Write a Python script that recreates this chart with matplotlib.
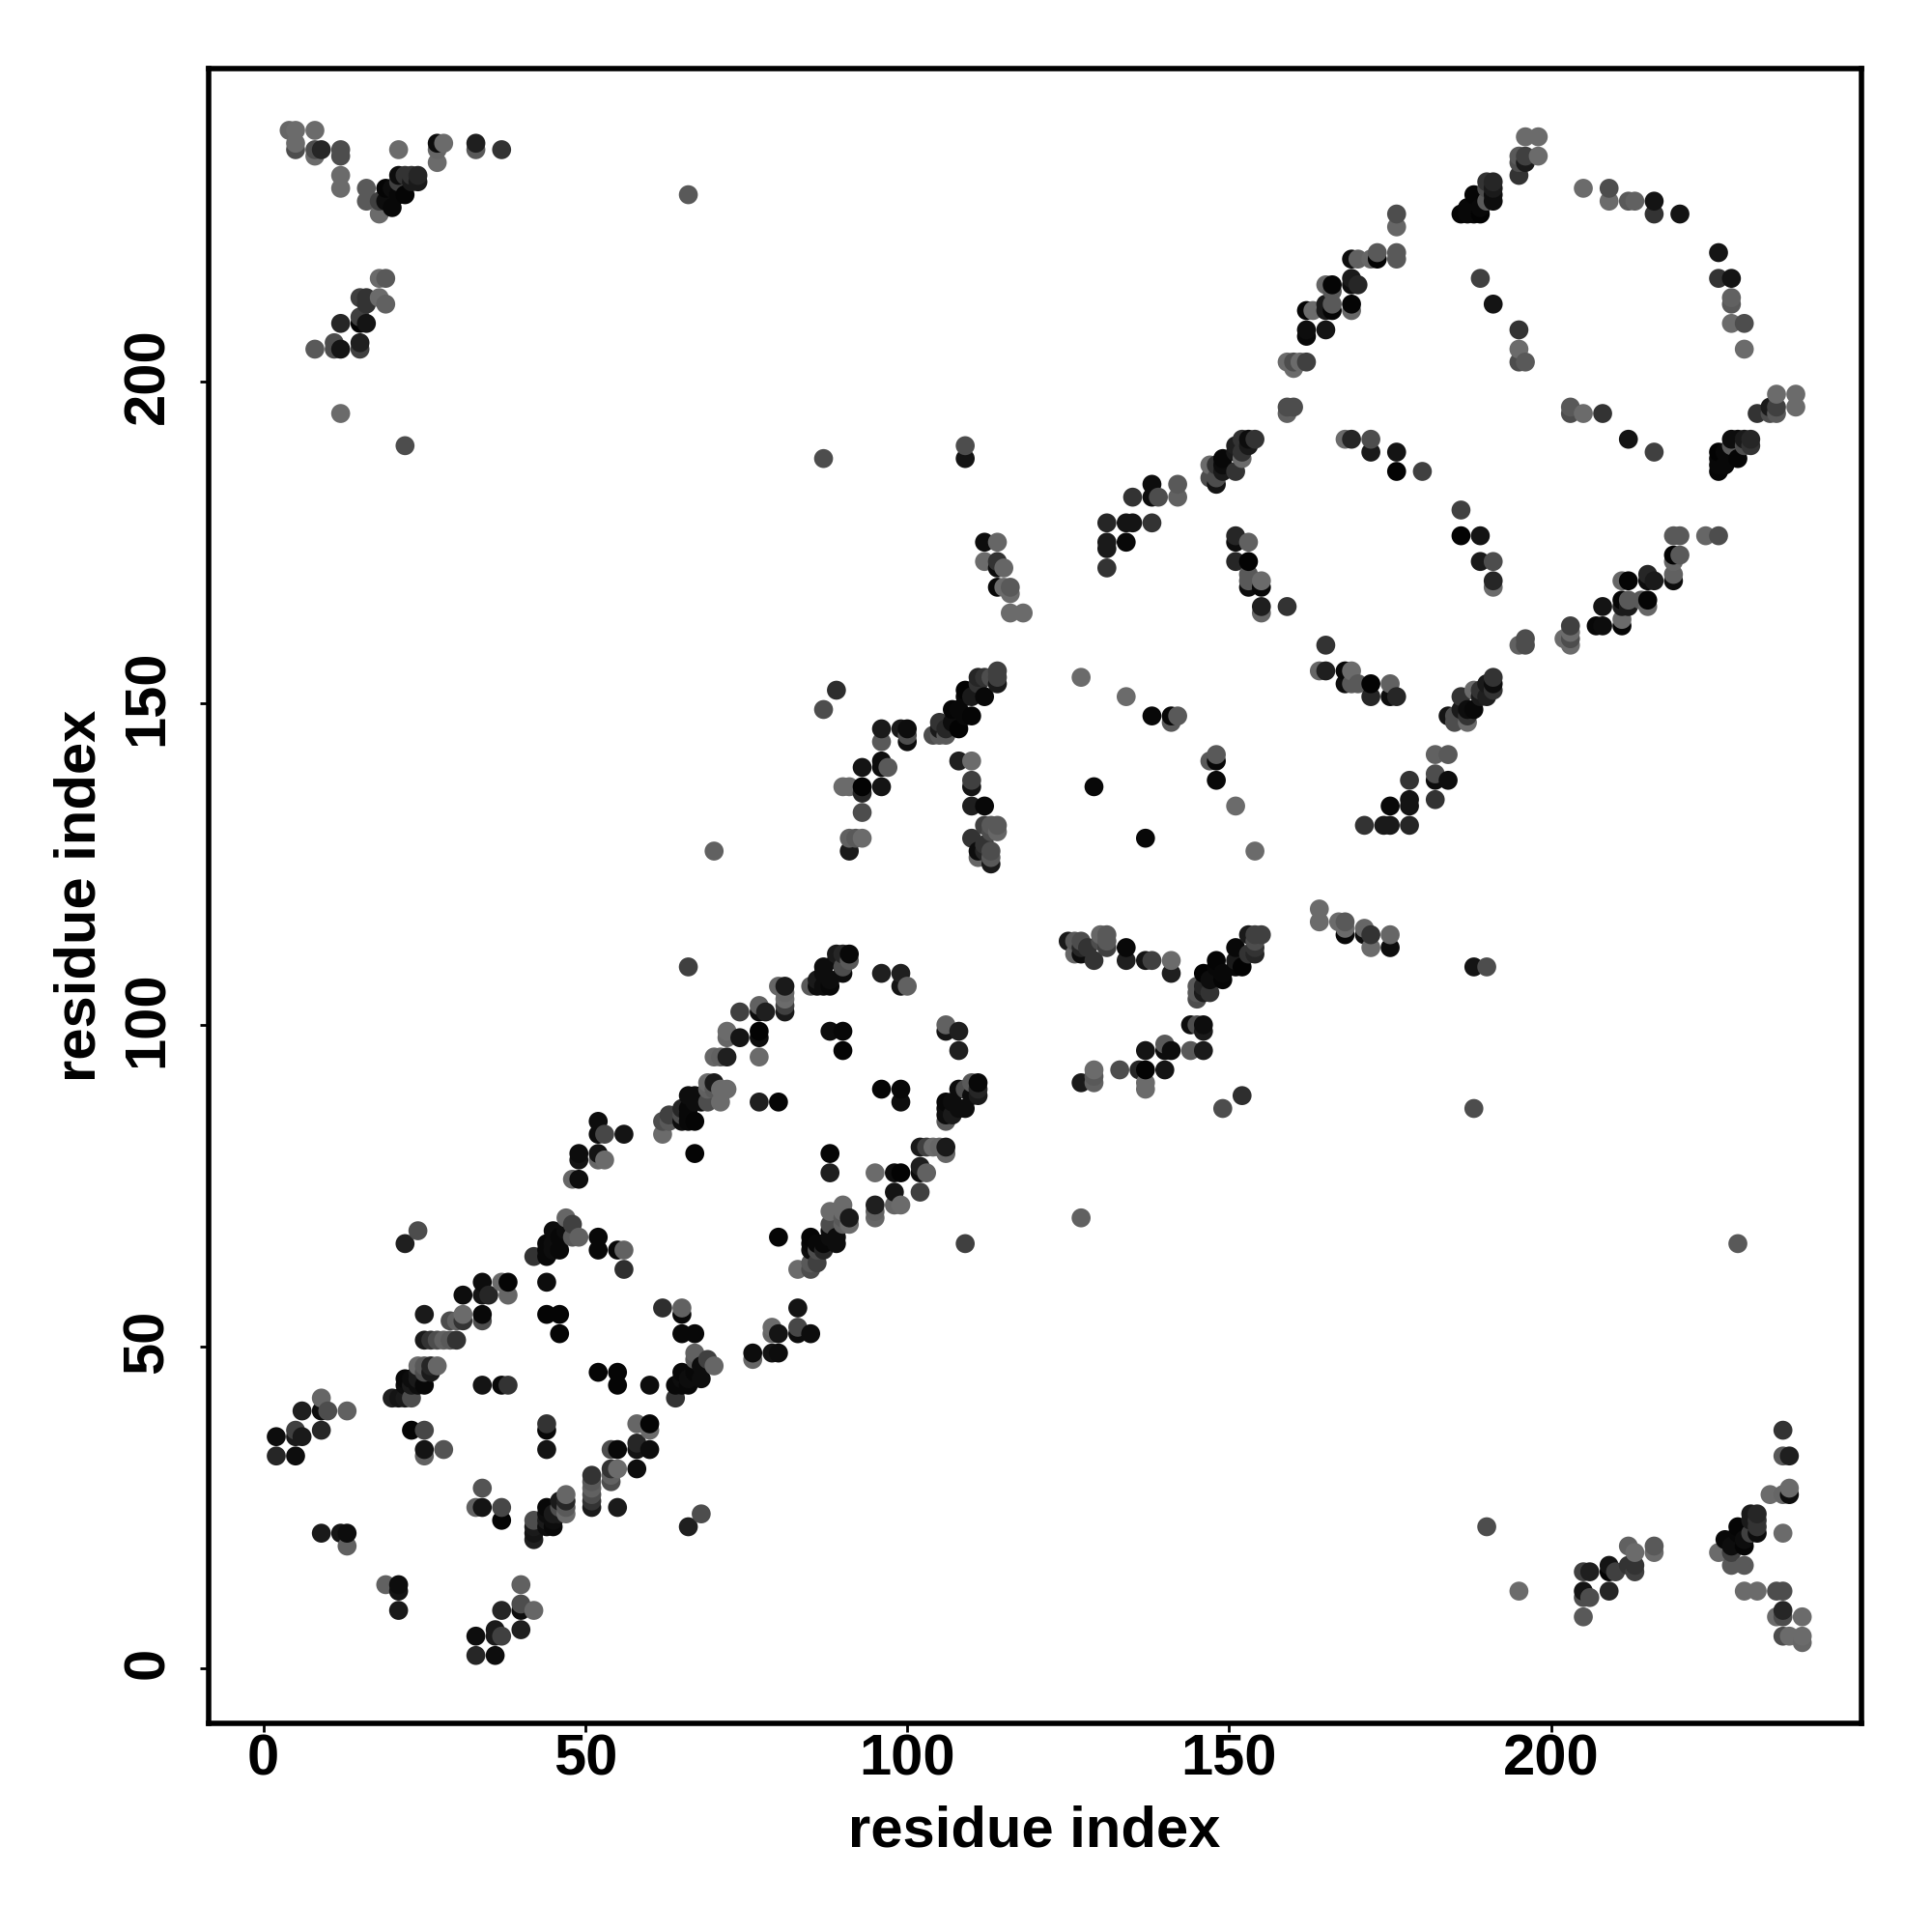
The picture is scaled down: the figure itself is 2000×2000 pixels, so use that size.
import numpy as np
import matplotlib
matplotlib.use("Agg")
import matplotlib.pyplot as plt
from matplotlib.transforms import ScaledTranslation

plt.rcParams["font.family"] = ["Liberation Sans", "DejaVu Sans"]

# Each line of the three lists holds the same contacts in the same order.
res_i = [
    2, 2, 5, 5, 5, 6, 6, 9, 9, 9, 10, 13, 9, 12, 13, 13,
    20, 21, 22, 23, 22, 23, 24, 25, 22, 23, 24, 24, 25, 26, 24, 25, 26, 27,
    25, 26, 27, 28, 29, 30, 29, 30, 31, 31, 25, 31, 34, 34, 34, 35, 34, 37, 38, 38,
    23, 25, 25, 25, 28, 38, 37, 34, 44, 46, 46, 44,
    42, 44, 44, 45, 46, 44, 45, 45, 46, 47, 48, 49, 48, 47, 52, 52, 55, 56, 56, 22, 24,
    48, 49, 49, 52, 53, 49, 52, 52, 53, 56, 52,
    62, 62, 63, 63, 65, 65, 65, 66, 66, 66, 66, 67, 67, 67, 68, 69, 69, 70, 69, 70, 71, 71, 72, 67,
    70, 71, 72, 72, 72, 74, 74, 77, 77, 77, 77, 77, 78, 80, 81, 81, 81, 81, 81,
    77, 80, 88, 90, 90,
    85, 86, 87, 88, 86, 88, 87, 90, 87, 90, 89, 91, 89, 90, 91, 96, 99, 99, 100, 66,
    112, 114, 112, 114, 114, 115, 114, 115, 116, 116, 116, 118,
    131, 134, 135, 138, 131, 134, 131, 131, 135, 138, 139, 142, 138, 142,
    89, 87, 96, 99, 100, 100, 100, 96, 96, 96, 93, 97, 93, 96, 90, 91, 93, 93, 91, 92, 93, 91,
    104, 105, 106, 105, 106, 108, 105, 107, 107, 108, 109, 110, 109, 110, 109, 112, 111, 111, 112, 113, 114, 114, 114,
    108, 110, 110, 110, 110, 112, 110, 112, 113, 114, 113, 114, 112, 111, 111, 112, 113, 113, 113,
    127, 134, 138, 141, 142, 141, 129,
    151, 153, 151, 151, 153, 153, 153, 155, 153, 155, 155, 155, 159,
    147, 147, 148, 148, 148, 149, 149, 149, 151, 151, 152, 152, 153, 151, 152, 153, 154,
    168, 169, 172, 172, 176, 176, 180, 159, 159, 160,
    159, 160, 160, 161, 162, 162, 162, 165, 162, 163, 165, 165, 166, 166, 165, 166, 166, 169, 169, 169, 169, 170,
    169, 170, 172, 173, 173, 176, 176, 176, 176,
    186, 187, 188, 189, 187, 189, 188, 190, 191, 191, 190, 191, 190, 191,
    195, 195, 196, 195, 196, 198, 196, 198,
    205, 209, 209, 212, 213, 216, 216, 220, 189, 191, 195, 195, 195, 196,
    4, 5, 8, 5, 5, 8, 9, 8, 12, 12, 12, 12, 21, 27, 28, 27, 27, 33, 33, 37,
    16, 16, 18, 18, 19, 19, 20, 20, 21, 22, 21, 21, 22, 23, 24, 23, 24,
    18, 19, 18, 19, 15, 16, 16, 15, 12, 15, 16, 8, 11, 11, 12, 15, 15, 12, 22,
    66, 87, 109, 109, 70,
]
res_j = [
    33, 36, 33, 36, 37, 36, 40, 37, 40, 42, 40, 40, 21, 21, 21, 19,
    42, 42, 42, 42, 44, 44, 44, 44, 45, 45, 45, 46, 46, 46, 47, 47, 47, 47,
    51, 51, 51, 51, 51, 51, 54, 54, 54, 55, 55, 58, 54, 55, 58, 58, 60, 60, 60, 58,
    37, 37, 34, 33, 34, 44, 44, 44, 55, 55, 52, 60,
    64, 64, 65, 65, 65, 66, 66, 68, 67, 68, 67, 67, 69, 70, 65, 67, 65, 65, 62, 66, 68,
    76, 76, 79, 79, 79, 80, 80, 83, 83, 83, 85,
    83, 85, 85, 86, 85, 86, 87, 85, 86, 87, 89, 85, 88, 89, 88, 88, 90, 90, 91, 91, 88, 90, 90, 80,
    95, 95, 95, 98, 99, 98, 102, 95, 98, 99, 102, 103, 102, 106, 102, 103, 104, 105, 106,
    88, 88, 99, 99, 96,
    106, 106, 106, 106, 107, 107, 108, 108, 109, 109, 110, 110, 111, 111, 111, 108, 108, 106, 106, 109,
    175, 175, 172, 172, 171, 171, 168, 168, 168, 167, 164, 164,
    178, 178, 178, 178, 175, 175, 174, 171, 182, 182, 182, 182, 184, 184,
    152, 149, 146, 146, 146, 145, 144, 144, 141, 140, 140, 140, 137, 137, 137, 137, 136, 133, 129, 129, 129, 127,
    145, 145, 145, 146, 146, 146, 147, 147, 149, 149, 148, 148, 151, 151, 152, 151, 153, 154, 154, 154, 153, 154, 155,
    141, 141, 138, 137, 134, 134, 129, 131, 131, 131, 130, 130, 128, 127, 126, 127, 127, 126, 125,
    154, 151, 148, 148, 148, 147, 137,
    176, 175, 175, 172, 172, 170, 169, 169, 168, 168, 165, 164, 165,
    185, 187, 184, 185, 187, 186, 187, 188, 186, 189, 188, 189, 190, 190, 191, 191, 191,
    191, 191, 191, 189, 189, 186, 186, 195, 196, 196,
    203, 202, 203, 203, 203, 207, 208, 208, 211, 211, 211, 212, 211, 212, 215, 215, 214, 211, 212, 215, 216, 215,
    219, 219, 219, 219, 220, 219, 220, 224, 226,
    226, 226, 226, 226, 227, 227, 229, 228, 228, 229, 230, 230, 231, 231,
    232, 234, 234, 235, 235, 235, 238, 238,
    230, 230, 228, 228, 228, 228, 226, 226, 216, 212, 208, 205, 203, 203,
    239, 239, 239, 237, 236, 236, 236, 235, 236, 235, 232, 230, 236, 237, 237, 236, 234, 237, 236, 236,
    230, 228, 228, 226, 228, 230, 227, 230, 229, 229, 231, 232, 232, 232, 232, 231, 231,
    216, 216, 213, 212, 213, 213, 212, 210, 209, 209, 209, 205, 206, 205, 205, 206, 205, 195, 190,
    229, 188, 190, 188, 127,
]
grey = [
    .15, .05, .05, .1, .25, .1, .12, .15, .05, .4, .3, .38, .1, .08, .05, .38,
    .12, .08, .1, .3, .05, .1, .05, .03, .03, .05, .1, .1, .3, .1, .42, .35, .15, .4,
    .1, .2, .3, .38, .35, .2, .3, .38, .2, .42, .1, .05, .3, .03, .08, .15, .05, .42, .02, .4,
    .02, .28, .08, .38, .33, .2, .03, .08, .02, .02, .02, .05,
    .2, .03, .03, .05, .03, .03, .05, .05, .03, .05, .35, .38, .25, .4, .03, .03, .03, .38, .18, .12, .3,
    .4, .05, .08, .4, .42, .05, .08, .05, .28, .08, .05,
    .42, .3, .35, .25, .05, .3, .15, .03, .03, .03, .05, .02, .05, .05, .05, .3, .38, .35, .42, .1, .42, .42, .42, .02,
    .4, .38, .12, .4, .42, .08, .25, .42, .05, .01, .05, .38, .12, .4, .1, .25, .42, .4, .1,
    .12, .02, .05, .03, .02,
    .35, .05, .05, .03, .1, .05, .05, .05, .05, .3, .05, .35, .1, .15, .03, .12, .12, .08, .38, .25,
    .05, .4, .42, .2, .05, .4, .03, .42, .35, .42, .42, .42,
    .15, .08, .08, .2, .1, .03, .1, .2, .2, .05, .3, .38, .05, .35,
    .18, .3, .1, .1, .05, .3, .05, .35, .05, .05, .08, .35, .01, .08, .42, .42, .15, .3, .38, .35, .42, .1,
    .3, .35, .35, .1, .15, .01, .2, .05, .02, .03, .03, .02, .03, .1, .01, .03, .2, .15, .2, .3, .1, .25, .25,
    .12, .42, .25, .08, .12, .03, .2, .25, .35, .35, .3, .4, .2, .05, .4, .15, .3, .35, .1,
    .42, .42, .03, .03, .35, .35, .03,
    .15, .38, .05, .15, .01, .35, .35, .42, .05, .03, .12, .4, .2,
    .3, .42, .08, .3, .2, .1, .05, .03, .2, .1, .42, .2, .1, .12, .2, .05, .2,
    .42, .15, .3, .1, .08, .01, .25, .38, .3, .3,
    .42, .42, .3, .42, .25, .03, .05, .08, .02, .42, .1, .1, .02, .35, .4, .02, .35, .4, .02, .05, .1, .15,
    .05, .38, .4, .01, .35, .35, .35, .4, .3,
    .02, .03, .03, .01, .03, .03, .02, .35, .05, .05, .3, .1, .2, .15,
    .2, .3, .1, .35, .25, .42, .42, .42,
    .42, .3, .42, .35, .38, .08, .2, .08, .25, .08, .2, .42, .3, .35,
    .4, .42, .42, .42, .3, .3, .15, .42, .3, .3, .42, .42, .42, .05, .42, .4, .42, .12, .35, .2,
    .35, .35, .25, .42, .05, .02, .03, .05, .03, .02, .25, .05, .2, .2, .15, .1, .1,
    .42, .35, .42, .38, .25, .2, .2, .25, .15, .01, .08, .35, .3, .3, .08, .12, .25, .42, .3,
    .35, .3, .3, .08, .38,
]
ticks = [0, 50, 100, 150, 200]

# both halves of the map, drawn in order of x then y
x = np.array(res_i + res_j)
y = np.array(res_j + res_i)
g = np.array(grey + grey)
order = np.lexsort((y, x))

fig = plt.figure(figsize=(10, 10), dpi=200)
ax = fig.add_axes([0.108, 0.108, 0.8555, 0.8565])
ax.scatter(x[order], y[order], s=50, c=[str(v) for v in g[order]], linewidths=0, zorder=3)

ax.set_xlim(-8.5, 248.2)
ax.set_ylim(-8.55, 248.6)
ax.set_xticks(ticks)
ax.set_yticks(ticks)
ax.tick_params(axis="x", length=3.1, width=1, pad=0.5, labelsize=21.5)
ax.tick_params(axis="y", length=3.1, width=1, pad=9.5, labelsize=21.5)
up = ScaledTranslation(0, 2 / 72, fig.dpi_scale_trans)
for lab in ax.get_xticklabels():
    lab.set_fontweight("bold")
for lab in ax.get_yticklabels():
    lab.set_fontweight("bold")
    lab.set_rotation(90)
    lab.set_va("center")
    lab.set_transform(lab.get_transform() + up)
for sp in ax.spines.values():
    sp.set_linewidth(2)

fig.text(0.5355, 1 - 1896 / 2000, "residue index", ha="center", va="center",
         fontsize=21.5, fontweight="bold")
fig.text(83 / 2000, 1 - 927 / 2000, "residue index", ha="center", va="center",
         rotation=90, fontsize=21.5, fontweight="bold")

fig.savefig("out.png", dpi=200)
